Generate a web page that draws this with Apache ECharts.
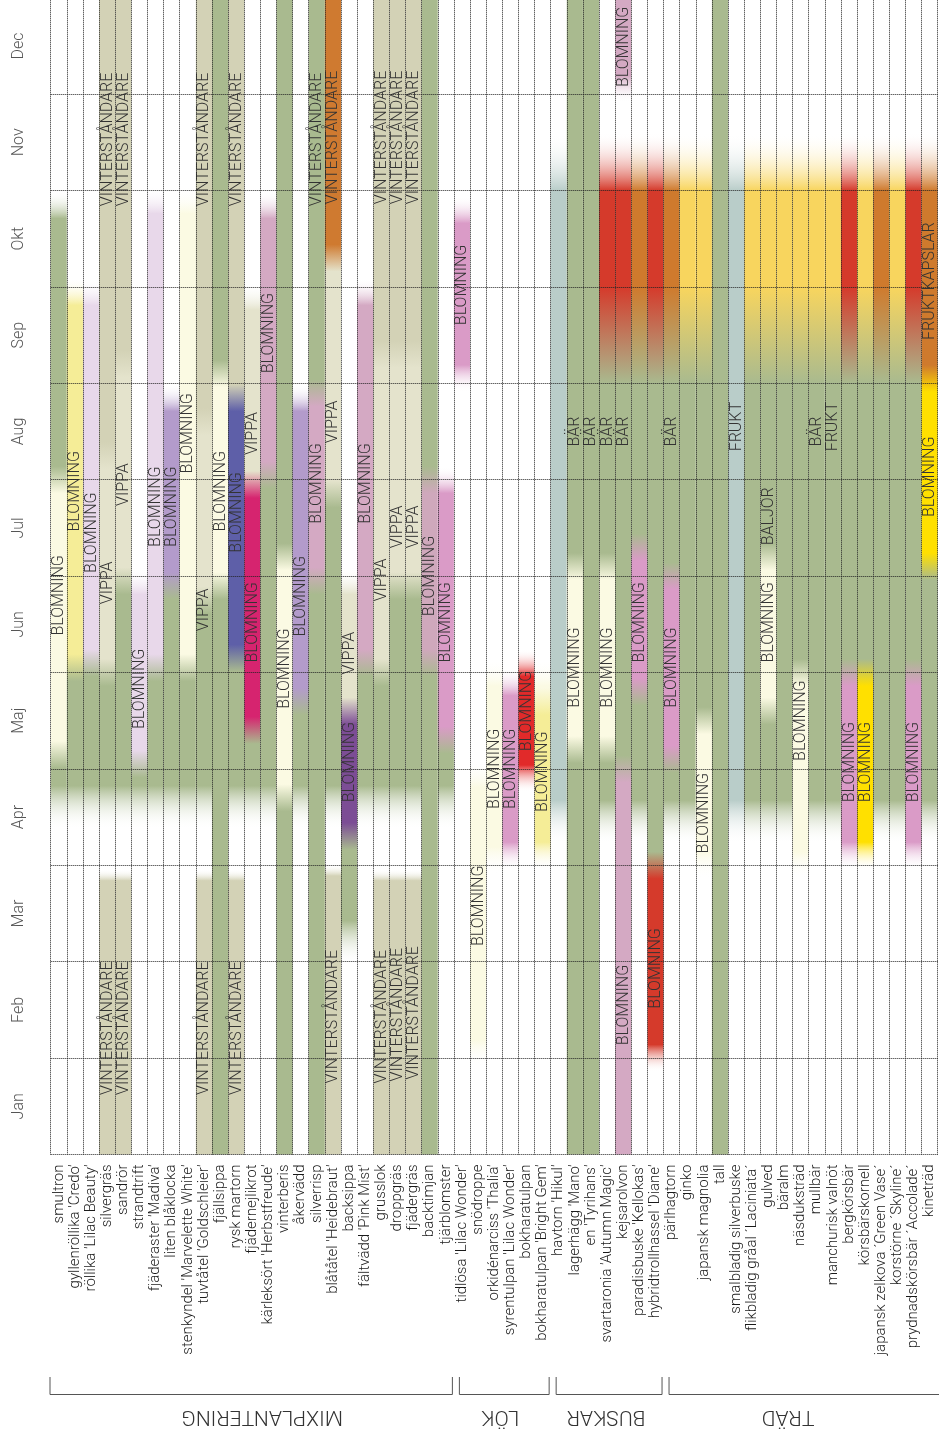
<!DOCTYPE html>
<html>
<head>
<meta charset="utf-8">
<script src="https://cdn.jsdelivr.net/npm/echarts@6.0.0/dist/echarts.min.js"></script>
<style>
  html, body { margin: 0; padding: 0; background: #fff; }
  #chart { width: 939px; height: 1429px; }
</style>
</head>
<body>
<div id="chart"></div>
<script>
// Month names along the season axis (Jan at the bottom, Dec at the top)
const months = ['Jan', 'Feb', 'Mar', 'Apr', 'Maj', 'Jun', 'Jul', 'Aug', 'Sep', 'Okt', 'Nov', 'Dec'];

// Plant names, one column each
const mixPlants = ['smultron', "gyllenröllika 'Credo'", "röllika 'Lilac Beauty'", 'silvergräs', 'sandrör', 'strandtrift',
  "fjäderaster 'Madiva'", 'liten blåklocka', "stenkyndel 'Marvelette White'", "tuvtåtel 'Goldschleier'", 'fjällsippa',
  'rysk martorn', 'fjädernejlikrot', "kärleksört 'Herbstfreude'", 'vinterberis', 'åkervädd', 'silverrisp',
  "blåtåtel 'Heidebraut'", 'backsippa', "fältvädd 'Pink Mist'", 'grusslok', 'droppgräs', 'fjädergräs', 'backtimjan', 'tjärblomster'];
const lokPlants = ["tidlösa 'Lilac Wonder'", 'snödroppe', "orkidénarciss 'Thalia'", "syrentulpan 'Lilac Wonder'", 'bokharatulpan',
  "bokharatulpan 'Bright Gem'"];
const buskPlants = ["havtorn 'Hikul'", "lagerhägg 'Mano'", "en 'Tyrihans'", "svartaronia 'Autumn Magic'", 'kejsarolvon',
  "paradisbuske 'Kellokas'", "hybridtrollhassel 'Diane'"];
const tradPlants = ['pärlhagtorn', 'ginko', 'japansk magnolia', 'tall', 'smalbladig silverbuske', 'flikbladig gråal ´Laciniata´',
  'gulved', 'bäralm', 'näsduksträd', 'mullbär', 'manchurisk valnöt', 'bergkörsbär', 'körsbärskornell',
  'japansk zelkova ´Green Vase´', 'korstörne ´Skyline´', 'prydnadskörsbär ´Accolade´', 'kineträd'];

// Seasons per plant: [from month, to month, kind, label, label month]
const mixSeasons = [
  [[3.6, 4.15, 'leaf'], [4.15, 7.0, 'white', 'BLOMNING', 5.8], [7.0, 9.85, 'leaf']],
  [[3.6, 5.05, 'leaf'], [5.05, 8.95, 'yellow', 'BLOMNING', 6.88]],
  [[3.6, 5.1, 'leaf'], [5.1, 8.95, 'lilac', 'BLOMNING', 6.45]],
  [[0, 2.9, 'straw', 'VINTERSTÅNDARE', 1.31], [3.6, 5.0, 'leaf'], [5.0, 7.25, 'panicle', 'VIPPA', 5.93], [7.25, 12, 'straw', 'VINTERSTÅNDARE', 10.53]],
  [[0, 2.9, 'straw', 'VINTERSTÅNDARE', 1.31], [3.6, 5.95, 'leaf'], [5.95, 8.2, 'panicle', 'VIPPA', 6.95], [8.2, 12, 'straw', 'VINTERSTÅNDARE', 10.53]],
  [[3.6, 4.05, 'leaf'], [4.05, 5.95, 'lilac', 'BLOMNING', 4.83]],
  [[3.6, 5.05, 'leaf'], [5.05, 9.9, 'lilac', 'BLOMNING', 6.72]],
  [[3.6, 5.9, 'leaf'], [5.9, 7.85, 'lavender', 'BLOMNING', 6.72]],
  [[3.6, 5.05, 'leaf'], [5.05, 9.9, 'white', 'BLOMNING', 7.48]],
  [[0, 2.9, 'straw', 'VINTERSTÅNDARE', 1.31], [3.6, 5.75, 'leaf'], [5.75, 7.6, 'panicle', 'VIPPA', 5.65], [7.6, 12, 'straw', 'VINTERSTÅNDARE', 10.53]],
  [[0, 5.9, 'leaf'], [5.9, 8.1, 'white', 'BLOMNING', 6.88], [8.1, 12, 'leaf']],
  [[0, 2.9, 'straw', 'VINTERSTÅNDARE', 1.31], [3.6, 5.15, 'leaf'], [5.15, 7.85, 'blue', 'BLOMNING', 6.66], [7.85, 12, 'straw', 'VINTERSTÅNDARE', 10.53]],
  [[3.6, 4.4, 'leaf'], [4.4, 6.95, 'magenta', 'BLOMNING', 5.52], [6.95, 8.9, 'panicle', 'VIPPA', 7.48]],
  [[3.6, 7.05, 'leaf'], [7.05, 9.85, 'rose', 'BLOMNING', 8.52]],
  [[0, 3.7, 'leaf'], [3.7, 6.2, 'white', 'BLOMNING', 5.04], [6.2, 12, 'leaf']],
  [[3.6, 4.7, 'leaf'], [4.7, 7.85, 'lavender', 'BLOMNING', 5.79]],
  [[0, 5.95, 'leaf'], [5.95, 7.9, 'rose', 'BLOMNING', 6.96], [7.9, 12, 'leaf', 'VINTERSTÅNDARE', 10.53]],
  [[0, 2.95, 'straw', 'VINTERSTÅNDARE', 1.43], [3.6, 6.85, 'leaf'], [6.85, 9.3, 'panicle', 'VIPPA', 7.6], [9.3, 12, 'rust', 'VINTERSTÅNDARE', 10.55]],
  [[2.2, 3.3, 'leaf'], [3.3, 4.6, 'violet', 'BLOMNING', 4.07], [4.6, 5.95, 'panicle', 'VIPPA', 5.2]],
  [[3.6, 5.1, 'leaf'], [5.1, 8.95, 'rose', 'BLOMNING', 6.96]],
  [[0, 2.9, 'straw', 'VINTERSTÅNDARE', 1.43], [3.6, 5.0, 'leaf'], [5.0, 8.3, 'panicle', 'VIPPA', 5.96], [8.3, 12, 'straw', 'VINTERSTÅNDARE', 10.55]],
  [[0, 2.9, 'straw', 'VINTERSTÅNDARE', 1.45], [3.6, 5.9, 'leaf'], [5.9, 8.3, 'panicle', 'VIPPA', 6.51], [8.3, 12, 'straw', 'VINTERSTÅNDARE', 10.55]],
  [[0, 2.9, 'straw', 'VINTERSTÅNDARE', 1.47], [3.6, 5.9, 'leaf'], [5.9, 8.3, 'panicle', 'VIPPA', 6.51], [8.3, 12, 'straw', 'VINTERSTÅNDARE', 10.55]],
  [[0, 5.1, 'leaf'], [5.1, 7.0, 'mauve', 'BLOMNING', 6.0], [7.0, 12, 'leaf']],
  [[3.6, 4.3, 'leaf'], [4.3, 7.0, 'pink', 'BLOMNING', 5.52]]
];
const lokSeasons = [
  [[8.05, 9.8, 'pink', 'BLOMNING', 9.02]],
  [[1.05, 3.95, 'white', 'BLOMNING', 2.58]],
  [[3.05, 5.0, 'white', 'BLOMNING', 4.0]],
  [[3.1, 4.9, 'pink', 'BLOMNING', 4.0]],
  [[3.9, 5.1, 'red', 'BLOMNING', 4.6]],
  [[3.1, 4.7, 'yellow', 'BLOMNING', 3.97], [4.7, 5.0, 'white']]
];
const buskSeasons = [
  [[3.45, 10.3, 'silver']],
  [[0, 4.2, 'leaf'], [4.2, 6.1, 'white', 'BLOMNING', 5.05], [6.1, 12, 'leaf', 'BÄR', 7.5]],
  [[0, 12, 'leaf', 'BÄR', 7.5]],
  [[3.45, 4.2, 'leaf'], [4.2, 6.1, 'white', 'BLOMNING', 5.05], [6.1, 8.5, 'leaf', 'BÄR', 7.5], [8.5, 10.3, 'autumnRed']],
  [[0, 4.0, 'rose', 'BLOMNING', 1.55], [4.0, 8.5, 'leaf', 'BÄR', 7.5], [8.5, 10.3, 'autumnRed'], [11.05, 12, 'rose', 'BLOMNING', 11.49]],
  [[3.45, 4.8, 'leaf'], [4.8, 6.3, 'pink', 'BLOMNING', 5.52], [6.3, 8.5, 'leaf'], [8.5, 10.3, 'autumnOrange']],
  [[1.0, 3.0, 'autumnRed', 'BLOMNING', 1.93], [3.0, 8.5, 'leaf'], [8.5, 10.3, 'autumnRed']]
];
const tradSeasons = [
  [[3.45, 4.1, 'leaf'], [4.1, 6.0, 'pink', 'BLOMNING', 5.05], [6.0, 8.5, 'leaf', 'BÄR', 7.5], [8.5, 10.3, 'autumnOrange']],
  [[3.45, 8.5, 'leaf'], [8.5, 10.3, 'gold']],
  [[3.0, 4.5, 'white', 'BLOMNING', 3.54], [4.5, 8.5, 'leaf'], [8.5, 10.3, 'gold']],
  [[0, 12, 'leaf']],
  [[3.45, 10.3, 'silver', 'FRUKT', 7.55]],
  [[3.45, 8.5, 'leaf'], [8.5, 10.3, 'gold']],
  [[3.45, 4.6, 'leaf'], [4.6, 6.2, 'white', 'BLOMNING', 5.52], [6.2, 8.5, 'leaf', 'BALJOR', 6.62], [8.5, 10.3, 'gold']],
  [[3.45, 8.5, 'leaf'], [8.5, 10.3, 'gold']],
  [[3.0, 5.0, 'white', 'BLOMNING', 4.5], [5.0, 8.5, 'leaf'], [8.5, 10.3, 'gold']],
  [[3.45, 8.5, 'leaf', 'BÄR', 7.5], [8.5, 10.3, 'gold']],
  [[3.45, 8.5, 'leaf', 'FRUKT', 7.55], [8.5, 10.3, 'gold']],
  [[3.1, 5.0, 'pink', 'BLOMNING', 4.07], [5.0, 8.5, 'leaf'], [8.5, 10.3, 'autumnRed']],
  [[3.1, 5.0, 'lemon', 'BLOMNING', 4.07], [5.0, 8.5, 'leaf'], [8.5, 10.3, 'gold']],
  [[3.45, 8.5, 'leaf'], [8.5, 10.3, 'autumnOrange']],
  [[3.45, 8.5, 'leaf'], [8.5, 10.3, 'gold']],
  [[3.1, 5.0, 'pink', 'BLOMNING', 4.07], [5.0, 8.5, 'leaf'], [8.5, 10.3, 'autumnRed']],
  [[3.45, 6.1, 'leaf'], [6.1, 8.05, 'lemon', 'BLOMNING', 7.03], [8.05, 10.3, 'autumnOrange', 'FRUKTKAPSLAR', 9.06]]
];

// Plant groups: [name, number of plants]
const groups = [['MIXPLANTERING', mixPlants.length], ['LÖK', lokPlants.length], ['BUSKAR', buskPlants.length], ['TRÄD', tradPlants.length]];

const plants = mixPlants.concat(lokPlants, buskPlants, tradPlants);
const seasons = mixSeasons.concat(lokSeasons, buskSeasons, tradSeasons);

// Fill colour for each kind of season
const palette = {
  leaf: '#a9ba8f',
  straw: '#d3d2b6',
  panicle: '#e4e3cc',
  white: '#fbfae3',
  yellow: '#f5ed97',
  lilac: '#e8d8ea',
  lavender: '#b39bcb',
  blue: '#5e5fa8',
  magenta: '#d6246f',
  rose: '#d4a9c3',
  mauve: '#cfa8bc',
  pink: '#da9bc7',
  violet: '#7c4d95',
  red: '#e12a2a',
  rust: '#cf7a30',
  silver: '#b9cdc9',
  autumnRed: '#d53a2b',
  autumnOrange: '#cf7a2d',
  gold: '#f8d55e',
  lemon: '#ffe000'
};
const EMPTY = 'rgba(255,255,255,0)';
const AUTUMN = ['autumnRed', 'autumnOrange', 'gold'];

// Width (in months) of the soft blend between two neighbouring seasons
function blendWidth(a, b) {
  if (a === 'leaf' && AUTUMN.indexOf(b) >= 0) return 1.0;
  if (b === null && (AUTUMN.indexOf(a) >= 0 || a === 'silver')) return 0.6;
  if (a === null && (b === 'leaf' || b === 'silver')) return 0.45;
  if (a === 'straw' && b === null) return 0.12;
  return 0.28;
}

// Turn a list of seasons into gradient stops running from the top (Dec) to the bottom (Jan)
function seasonStops(segs) {
  const regions = [];
  let cur = 0;
  segs.forEach(s => {
    if (s[0] > cur + 1e-6) regions.push([cur, s[0], null]);
    regions.push([s[0], s[1], s[2]]);
    cur = s[1];
  });
  if (cur < 12 - 1e-6) regions.push([cur, 12, null]);
  const stops = [];
  regions.forEach((r, k) => {
    const len = r[1] - r[0];
    let lo = r[0], hi = r[1];
    if (k > 0) {
      const p = regions[k - 1];
      lo = r[0] + Math.min(blendWidth(p[2], r[2]) / 2, len / 2, (p[1] - p[0]) / 2);
    }
    if (k < regions.length - 1) {
      const n = regions[k + 1];
      hi = r[1] - Math.min(blendWidth(r[2], n[2]) / 2, len / 2, (n[1] - n[0]) / 2);
    }
    const c = r[2] ? palette[r[2]] : EMPTY;
    stops.push([lo, c], [hi, c]);
  });
  return stops.map(([m, c]) => ({ offset: Math.min(1, Math.max(0, (12 - m) / 12)), color: c })).reverse();
}

const FONT = 'Roboto, "Liberation Sans", sans-serif';

function renderColumn(params, api) {
  const i = api.value(0);
  const segs = seasons[i];
  const top = api.coord([i, 12]);
  const bottom = api.coord([i, 0]);
  const w = api.size([1, 0])[0];
  const children = [{
    type: 'rect',
    shape: { x: top[0] - w / 2, y: top[1], width: w, height: bottom[1] - top[1] },
    style: { fill: new echarts.graphic.LinearGradient(0, 0, 0, 1, seasonStops(segs)) }
  }];
  segs.forEach(s => {
    if (!s[3]) return;
    const p = api.coord([i, s[4]]);
    children.push({
      type: 'text',
      x: p[0] + 0.5,
      y: p[1],
      rotation: Math.PI / 2,
      style: {
        text: s[3],
        fontFamily: FONT,
        fontWeight: 300,
        fontSize: 16,
        fill: '#333',
        align: 'center',
        verticalAlign: 'middle'
      }
    });
  });
  return { type: 'group', children: children };
}

const dotted = { color: '#222', width: 1, type: [1, 1] };

const chart = echarts.init(document.getElementById('chart'), null, { renderer: 'canvas' });
chart.setOption({
  animation: false,
  backgroundColor: '#fff',
  grid: { left: 50.7, right: 1.3, top: -2.3, bottom: 274.5, containLabel: false, outerBoundsMode: 'none' },
  xAxis: {
    type: 'category',
    data: plants,
    boundaryGap: true,
    z: 10,
    axisLine: { show: false },
    axisTick: { show: false },
    splitLine: { show: true, interval: 0, lineStyle: dotted },
    axisLabel: {
      interval: 0,
      rotate: 90,
      margin: 10,
      fontFamily: FONT,
      fontWeight: 300,
      fontSize: 15,
      color: '#1a1a1a'
    }
  },
  yAxis: [{
    type: 'value',
    min: 0,
    max: 12,
    interval: 1,
    z: 10,
    axisLine: { show: false },
    axisTick: { show: false },
    axisLabel: { show: false },
    splitLine: { show: true, lineStyle: dotted }
  }, {
    type: 'category',
    data: months,
    position: 'left',
    boundaryGap: true,
    axisLine: { show: false },
    axisTick: { show: false },
    splitLine: { show: false },
    axisLabel: {
      rotate: 90,
      margin: 24,
      fontFamily: FONT,
      fontWeight: 300,
      fontSize: 16,
      color: '#555'
    }
  }],
  series: [{
    type: 'custom',
    coordinateSystem: 'cartesian2d',
    xAxisIndex: 0,
    yAxisIndex: 0,
    renderItem: renderColumn,
    encode: { x: 0, y: 1 },
    data: plants.map((p, i) => [i, 12])
  }]
});

// Group brackets and group names under the plant names
const labelNudge = [11, -4, -3, -16];
const graphics = [];
let first = 0;
const band = chart.convertToPixel({ xAxisIndex: 0 }, 1) - chart.convertToPixel({ xAxisIndex: 0 }, 0);
groups.forEach((g, k) => {
  const last = first + g[1] - 1;
  const left = chart.convertToPixel({ xAxisIndex: 0 }, first) - band / 2 + (k === 0 ? -0.7 : 5.5);
  const isLast = k === groups.length - 1;
  const right = isLast ? 939 : chart.convertToPixel({ xAxisIndex: 0 }, last) + band / 2 - 1.5;
  const pts = [[left, 1377], [left, 1394.5], [right, 1394.5]];
  if (!isLast) pts.push([right, 1377]);
  graphics.push({
    type: 'polyline',
    shape: { points: pts },
    style: { stroke: '#555', lineWidth: 1, fill: null }
  });
  graphics.push({
    type: 'text',
    x: (left + right) / 2 + labelNudge[k],
    y: 1416,
    rotation: Math.PI,
    style: {
      text: g[0],
      fontFamily: FONT,
      fontWeight: 300,
      fontSize: 21,
      fill: '#333',
      align: 'center',
      verticalAlign: 'middle'
    }
  });
  first = last + 1;
});
chart.setOption({ graphic: graphics });
</script>
</body>
</html>
